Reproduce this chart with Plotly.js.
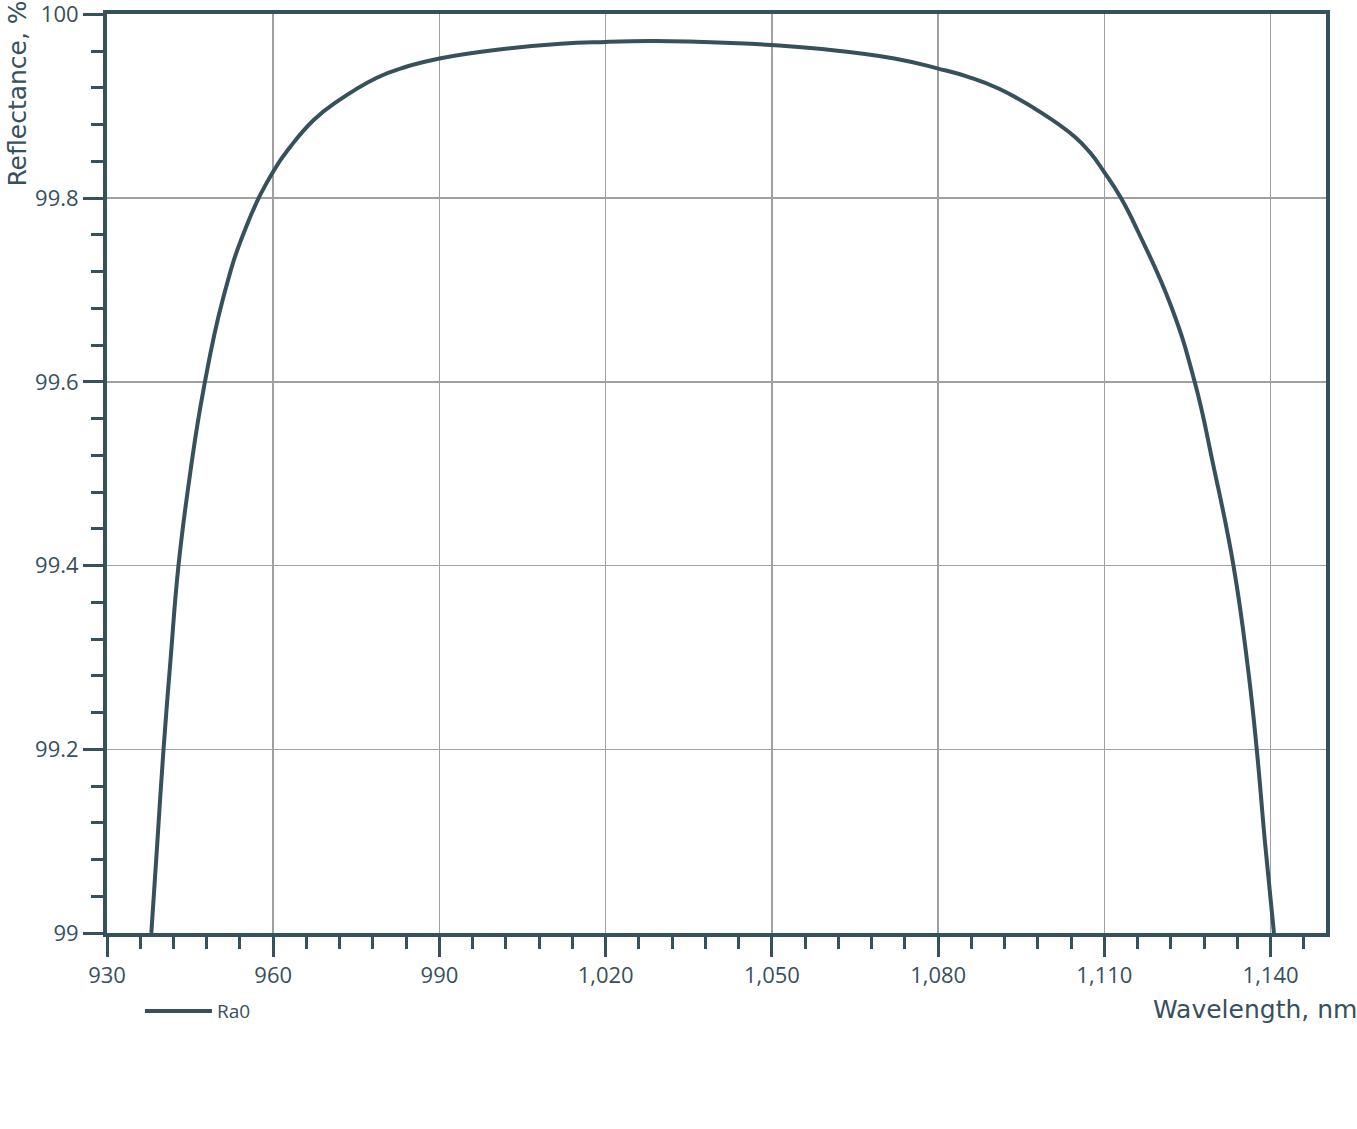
<!DOCTYPE html>
<html>
<head>
<meta charset="utf-8">
<script src="https://cdn.plot.ly/plotly-3.0.1.min.js"></script>
<style>html,body{margin:0;padding:0;background:#fff;}#chart{width:1357px;height:1129px;}</style>
</head>
<body>
<div id="chart"></div>
<script>
const seriesName = "Ra0";
const wavelength = [938.0, 939.1, 940.2, 941.5, 942.9, 945.0, 947.4, 951.0, 955.2, 960.0, 963.1, 967.3, 971.5, 978.7, 984.0, 990.0, 1000.4, 1011.9, 1020.0, 1028.1, 1035.0, 1046.2, 1059.5, 1072.1, 1080.0, 1085.4, 1091.0, 1098.6, 1104.6, 1107.5, 1110.0, 1113.0, 1116.2, 1122.0, 1126.3, 1129.6, 1133.3, 1135.9, 1137.5, 1139.0, 1140.6];
const reflectance = [99.0, 99.1, 99.2, 99.3, 99.4, 99.5, 99.591, 99.692, 99.77, 99.829, 99.856, 99.885, 99.905, 99.931, 99.943, 99.952, 99.9615, 99.968, 99.970, 99.971, 99.9705, 99.968, 99.962, 99.952, 99.941, 99.932, 99.919, 99.893, 99.867, 99.849, 99.828, 99.8, 99.762, 99.683, 99.6, 99.511, 99.4, 99.289, 99.2, 99.098, 99.0];
const xTitle = "Wavelength, nm";
const yTitle = "Reflectance, %";
const yTickVals = [99, 99.2, 99.4, 99.6, 99.8, 100];
const yTickText = ["99", "99.2", "99.4", "99.6", "99.8", "100"];

const dark = "#36505c";
const grid = "#a0a0a0";

const trace = {
  x: wavelength, y: reflectance, name: seriesName, type: "scatter", mode: "lines",
  line: {color: dark, width: 4, shape: "spline", smoothing: 1.3},
  showlegend: true, hoverinfo: "x+y"
};

const axisCommon = {
  showline: true, linecolor: dark, linewidth: 4, mirror: true,
  ticks: "outside", tickcolor: dark, tickwidth: 3, ticklen: 20,
  showgrid: true, gridcolor: grid, gridwidth: 1.5, zeroline: false,
  ticklabeloverflow: "allow",
  tickfont: {family: "Open Sans, sans-serif", size: 22, color: dark}
};

const layout = {
  width: 1357, height: 1129,
  margin: {l: 107, r: 31, t: 14, b: 196},
  paper_bgcolor: "#fff", plot_bgcolor: "#fff",
  showlegend: true,
  xaxis: Object.assign({}, axisCommon, {
    range: [930, 1150], tick0: 930, dtick: 30, tickformat: ",d",
    minor: {dtick: 6, tick0: 930, ticks: "outside", ticklen: 12, tickwidth: 3, tickcolor: dark, showgrid: false}
  }),
  yaxis: Object.assign({}, axisCommon, {
    range: [99, 100.0004], tickmode: "array", tickvals: yTickVals, ticktext: yTickText,
    minor: {dtick: 0.04, tick0: 99, ticks: "outside", ticklen: 12, tickwidth: 3, tickcolor: dark, showgrid: false}
  }),
  legend: {
    x: 0.027, y: -0.085, xanchor: "left", yanchor: "middle", orientation: "h",
    font: {family: "Open Sans, sans-serif", size: 19, color: dark},
    itemwidth: 67, bgcolor: "rgba(0,0,0,0)"
  },
  annotations: [
    {text: xTitle, xref: "paper", yref: "paper", x: 1.027, y: -0.083, xanchor: "right", yanchor: "middle",
     showarrow: false, font: {family: "DejaVu Sans, sans-serif", size: 25, color: dark}},
    {text: yTitle, xref: "paper", yref: "paper", x: -0.073, y: 0.81, xanchor: "center", yanchor: "bottom",
     textangle: -90, showarrow: false, font: {family: "DejaVu Sans, sans-serif", size: 25, color: dark}}
  ]
};

Plotly.newPlot("chart", [trace], layout, {displayModeBar: false, staticPlot: true});
</script>
</body>
</html>
